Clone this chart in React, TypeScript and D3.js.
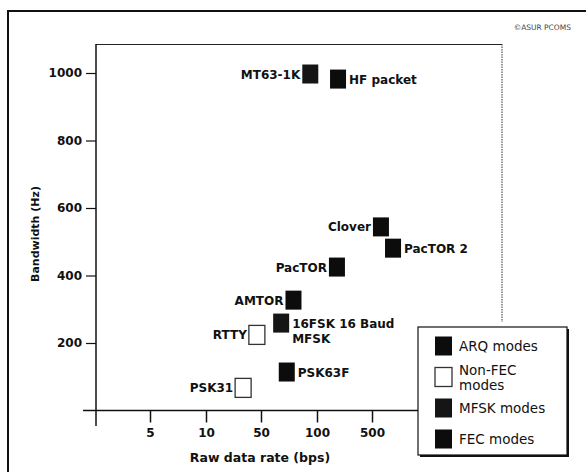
import React, { useEffect, useRef } from "react";
import * as d3 from "d3";

const modeNames = ["MT63-1K", "HF packet", "Clover", "PacTOR 2", "PacTOR", "AMTOR", "16FSK 16 Baud|MFSK", "RTTY", "PSK63F", "PSK31"];
const dataRates = [94, 253, 565, 653, 245, 79, 68, 47, 73, 37];
const bandwidths = [997, 982, 544, 481, 425, 327, 259, 224, 114, 67];
const modeTypes = ["MFSK", "ARQ", "ARQ", "ARQ", "ARQ", "ARQ", "MFSK", "Non-FEC", "FEC", "Non-FEC"];
const labelSides = ["left", "right", "left", "right", "left", "left", "right", "left", "right", "left"];

const xTickValues = [5, 10, 50, 100, 500];
const yTickValues = [200, 400, 600, 800, 1000];
const legendTypes = ["ARQ", "Non-FEC", "MFSK", "FEC"];
const legendLabels = ["ARQ modes", "Non-FEC|modes", "MFSK modes", "FEC modes"];

const FONT = "DejaVu Sans, sans-serif";

export default function App() {
  const ref = useRef<SVGSVGElement>(null);

  useEffect(() => {
    const svg = d3.select(ref.current);
    svg.selectAll("*").remove();

    const x = d3.scaleLinear().domain([0, 5, 10, 50, 100, 500]).range([96, 150, 206, 261, 317, 372]);
    const y = d3.scaleLinear().domain([0, 1000]).range([410.5, 73]);

    const fillFor = (t: string) =>
      t === "Non-FEC" ? "#fff" : t === "MFSK" ? "#151515" : "#0c0c0c";
    const strokeFor = (t: string) => (t === "Non-FEC" ? "#333" : "none");

    // outer frame
    svg.append("line").attr("x1", 7).attr("x2", 586).attr("y1", 11).attr("y2", 11).attr("stroke", "#111").attr("stroke-width", 2);
    svg.append("line").attr("x1", 8).attr("x2", 8).attr("y1", 10).attr("y2", 472).attr("stroke", "#111").attr("stroke-width", 2);

    // copyright
    svg.append("text").attr("x", 571).attr("y", 30).attr("text-anchor", "end")
      .attr("font-family", FONT).attr("font-size", 7.5).attr("fill", "#444").text("©ASUR PCOMS");

    // plot frame top / right
    svg.append("line").attr("x1", 96).attr("x2", 502).attr("y1", 44.5).attr("y2", 44.5).attr("stroke", "#222").attr("stroke-width", 1.2);
    svg.append("line").attr("x1", 502).attr("x2", 502).attr("y1", 44).attr("y2", 322).attr("stroke", "#333").attr("stroke-width", 1).attr("stroke-dasharray", "1.5,1");

    // x axis
    const xAxis = d3.axisBottom(x).tickValues(xTickValues).tickSize(12).tickSizeOuter(0).tickPadding(6)
      .tickFormat((d) => String(d));
    const gx = svg.append("g").attr("transform", "translate(0,410.5)").call(xAxis);
    gx.select(".domain").attr("d", "M83,0H502").attr("stroke", "#111").attr("stroke-width", 1.5);
    gx.selectAll(".tick line").attr("stroke", "#111").attr("stroke-width", 1.5);
    gx.selectAll(".tick text").attr("font-family", FONT).attr("font-size", 12).attr("font-weight", "bold").attr("fill", "#111");

    // y axis
    const yAxis = d3.axisLeft(y).tickValues(yTickValues).tickSize(10).tickSizeOuter(0).tickPadding(4)
      .tickFormat((d) => String(d));
    const gy = svg.append("g").attr("transform", "translate(96,0)").call(yAxis);
    gy.select(".domain").attr("d", "M0,44V426").attr("stroke", "#111").attr("stroke-width", 1.5);
    gy.selectAll(".tick line").attr("stroke", "#111").attr("stroke-width", 1.2);
    gy.selectAll(".tick text").attr("font-family", FONT).attr("font-size", 12).attr("font-weight", "bold").attr("fill", "#111");

    // axis titles
    svg.append("text").attr("x", 260).attr("y", 462).attr("text-anchor", "middle")
      .attr("font-family", FONT).attr("font-size", 12.5).attr("font-weight", "bold").attr("fill", "#111")
      .text("Raw data rate (bps)");
    svg.append("text").attr("transform", "translate(39,234) rotate(-90)").attr("text-anchor", "middle")
      .attr("font-family", FONT).attr("font-size", 11).attr("font-weight", "bold").attr("fill", "#111")
      .text("Bandwidth (Hz)");

    // points
    const W = 16, H = 19;
    const idx = d3.range(modeNames.length);
    svg.append("g").selectAll("rect").data(idx).join("rect")
      .attr("x", (i) => x(dataRates[i]) - W / 2)
      .attr("y", (i) => y(bandwidths[i]) - H / 2)
      .attr("width", W).attr("height", H)
      .attr("fill", (i) => fillFor(modeTypes[i]))
      .attr("stroke", (i) => strokeFor(modeTypes[i]))
      .attr("stroke-width", 1.3);

    // labels
    const lg = svg.append("g").attr("font-family", FONT).attr("font-size", 12).attr("font-weight", "bold").attr("fill", "#111");
    idx.forEach((i) => {
      const left = labelSides[i] === "left";
      const px = x(dataRates[i]) + (left ? -W / 2 - 2 : W / 2 + 3);
      const py = y(bandwidths[i]);
      const lines = modeNames[i].split("|");
      const t = lg.append("text").attr("x", px).attr("y", py + 4.5)
        .attr("text-anchor", left ? "end" : "start");
      lines.forEach((ln, k) => {
        t.append("tspan").attr("x", px).attr("dy", k === 0 ? 0 : 15).text(ln);
      });
    });

    // legend
    const lgX = 418, lgY = 327, lgW = 149, lgH = 128;
    svg.append("rect").attr("x", lgX + 2).attr("y", lgY + 2).attr("width", lgW).attr("height", lgH).attr("fill", "#111");
    svg.append("rect").attr("x", lgX).attr("y", lgY).attr("width", lgW).attr("height", lgH).attr("fill", "#fff").attr("stroke", "#111").attr("stroke-width", 1.2);
    const legendYs = [346, 377, 408, 439];
    const leg = svg.append("g");
    legendTypes.forEach((t, i) => {
      leg.append("rect").attr("x", 435).attr("y", legendYs[i] - 9.5).attr("width", 17).attr("height", 19)
        .attr("fill", fillFor(t)).attr("stroke", strokeFor(t)).attr("stroke-width", 1.3);
      const lines = legendLabels[i].split("|");
      const tt = leg.append("text").attr("x", 459).attr("font-family", FONT).attr("font-size", 13.5).attr("fill", "#111")
        .attr("y", legendYs[i] + 5 - (lines.length - 1) * 7.5);
      lines.forEach((ln, k) => {
        tt.append("tspan").attr("x", 459).attr("dy", k === 0 ? 0 : 15).text(ln);
      });
    });
  }, []);

  return (
    <svg ref={ref} width={586} height={472} style={{ position: "absolute", left: 0, top: 0, background: "#fff" }} />
  );
}
